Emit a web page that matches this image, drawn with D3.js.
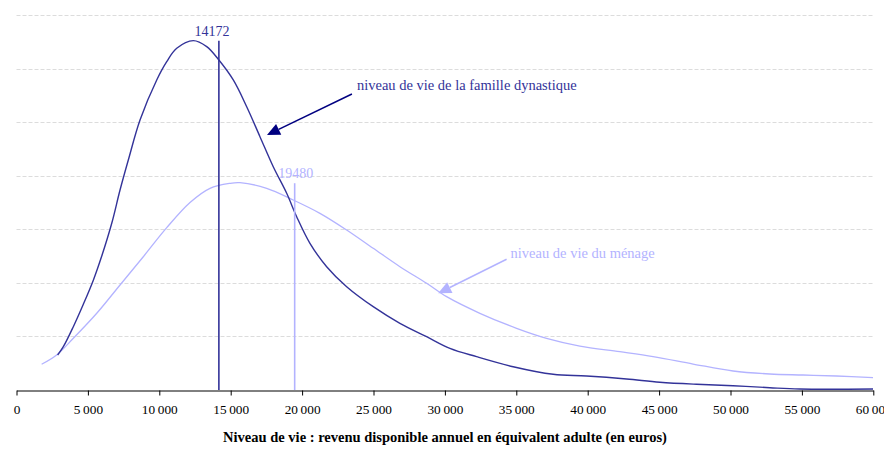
<!DOCTYPE html>
<html><head><meta charset="utf-8">
<script src="https://cdn.jsdelivr.net/npm/d3@7"></script>
<style>
html,body{margin:0;padding:0;background:#fff;}
svg text{font-family:"Liberation Serif","Times New Roman",Times,"DejaVu Serif",serif;}
</style></head>
<body><svg id="chart" width="884" height="449" font-family="Liberation Serif, Times New Roman, serif"></svg>
<script>
// ---- data ----
const xTicks = [0,5000,10000,15000,20000,25000,30000,35000,40000,45000,50000,55000,60000];
const gridLevels = [1,2,3,4,5,6,7];
// niveau de vie de la famille dynastique (density, arbitrary units)
const dynIncome = [2880,3280,3980,4680,5380,5970,6670,7250,7830,8650,9820,10520,11220,12380,13320,14130,15180,16120,17050,17980,18920,19620,20550,21720,23120,24980,26850,28720,30350,32220,34780,37580,39920,42720,45050,47620,50180,52750,54850,59980];
const dynDensity = [0.653,0.808,1.182,1.600,2.050,2.500,3.112,3.733,4.293,5.040,5.787,6.129,6.378,6.521,6.409,6.173,5.787,5.288,4.729,4.168,3.672,3.235,2.738,2.302,1.928,1.555,1.245,0.995,0.778,0.622,0.435,0.293,0.261,0.205,0.144,0.106,0.080,0.043,0.019,0.019];
// niveau de vie du ménage
const menIncome = [1760,2810,3980,5620,7250,8880,10520,12150,13550,14950,15650,17520,19380,21250,23120,24980,26850,28720,30120,32450,35020,37120,39450,42250,44580,47380,50180,52750,55080,57420,59980];
const menDensity = [0.480,0.653,0.965,1.432,1.960,2.488,3.030,3.500,3.765,3.858,3.870,3.765,3.547,3.298,2.987,2.645,2.302,1.992,1.742,1.432,1.152,0.965,0.821,0.715,0.622,0.485,0.355,0.299,0.280,0.261,0.230];
const medians = [14172, 19480];
const medianTops = [6.52, 3.86];
const labels = ["niveau de vie de la famille dynastique", "niveau de vie du ménage"];
const xTitle = "Niveau de vie : revenu disponible annuel en équivalent adulte (en euros)";
// annotation anchors (data units): text position, arrow start, arrow tip
const annText = [[23840,5.60],[34600,2.46]];
const annFrom = [[23490,5.525],[34320,2.44]];
const annTo = [[17540,4.76],[29530,1.805]];

// ---- drawing ----
const colDark = "#333399", colLight = "#b3b3ff", colArrowDark = "#000080";
const FONT = "Liberation Serif, Times New Roman, serif";
const svg = d3.select("#chart");
const x = d3.scaleLinear().domain([0,60000]).range([16.5,873.3]);
const y = d3.scaleLinear().domain([0,7]).range([390,15]);

// grid
svg.append("g").selectAll("line").data(gridLevels).join("line")
  .attr("x1",x(0)).attr("x2",x(60000))
  .attr("y1",d=>Math.round(y(d))+0.5).attr("y2",d=>Math.round(y(d))+0.5)
  .attr("stroke","#dcdcdc").attr("stroke-dasharray","4,2").attr("stroke-width",1);

// axis
const fmt = d => d===0 ? "0" : d3.format(",")(d).replace(",", "\u2009");
const ax = svg.append("g").attr("transform","translate(0,390.5)")
  .call(d3.axisBottom(x).tickValues(xTicks).tickSize(5).tickSizeOuter(0).tickFormat(fmt));
ax.attr("font-family",FONT);
ax.select(".domain").attr("stroke","#000");
ax.selectAll(".tick line").attr("stroke","#000");
ax.selectAll(".tick text").attr("font-family",FONT).attr("font-size",13.3).attr("fill","#000").attr("dy","1.2em");

svg.append("text").attr("x",445).attr("y",442).attr("text-anchor","middle").attr("font-family",FONT)
  .attr("font-weight","bold").attr("font-size",14.5).attr("fill","#000").text(xTitle);

// curves
const line = d3.line().x(d=>x(d[0])).y(d=>y(d[1])).curve(d3.curveCatmullRom.alpha(0.5));
svg.append("path").datum(menIncome.map((v,i)=>[v,menDensity[i]]))
  .attr("d",line).attr("fill","none").attr("stroke",colLight).attr("stroke-width",1.3);
svg.append("path").datum(dynIncome.map((v,i)=>[v,dynDensity[i]]))
  .attr("d",line).attr("fill","none").attr("stroke",colDark).attr("stroke-width",1.4);

// medians
const medCols = [colDark, colLight];
const medDx = [-7, 1];
medians.forEach((m,i)=>{
  svg.append("line").attr("x1",x(m)).attr("x2",x(m)).attr("y1",y(medianTops[i])).attr("y2",390)
    .attr("stroke",medCols[i]).attr("stroke-width",1.6);
  svg.append("text").attr("x",x(m)+medDx[i]).attr("y",y(medianTops[i])-5).attr("text-anchor","middle")
    .attr("font-family",FONT).attr("font-size",14).attr("fill",medCols[i]).text(String(m));
});

// annotations
const arrCols = [colArrowDark, colLight];
const txtCols = [colDark, colLight];
labels.forEach((t,i)=>{
  const x1=x(annFrom[i][0]), y1=y(annFrom[i][1]), x2=x(annTo[i][0]), y2=y(annTo[i][1]);
  const ang = Math.atan2(y2-y1,x2-x1), L=13, W=6;
  const bx = x2 - L*Math.cos(ang), by = y2 - L*Math.sin(ang);
  svg.append("line").attr("x1",x1).attr("y1",y1).attr("x2",bx).attr("y2",by)
    .attr("stroke",arrCols[i]).attr("stroke-width",1.5);
  const px=-Math.sin(ang)*W, py=Math.cos(ang)*W;
  svg.append("path").attr("d",`M${x2},${y2}L${bx+px},${by+py}L${bx-px},${by-py}Z`).attr("fill",arrCols[i]);
  svg.append("text").attr("x",x(annText[i][0])).attr("y",y(annText[i][1])).attr("font-family",FONT).attr("font-size",14.5)
    .attr("fill",txtCols[i]).text(t);
});
</script></body></html>
